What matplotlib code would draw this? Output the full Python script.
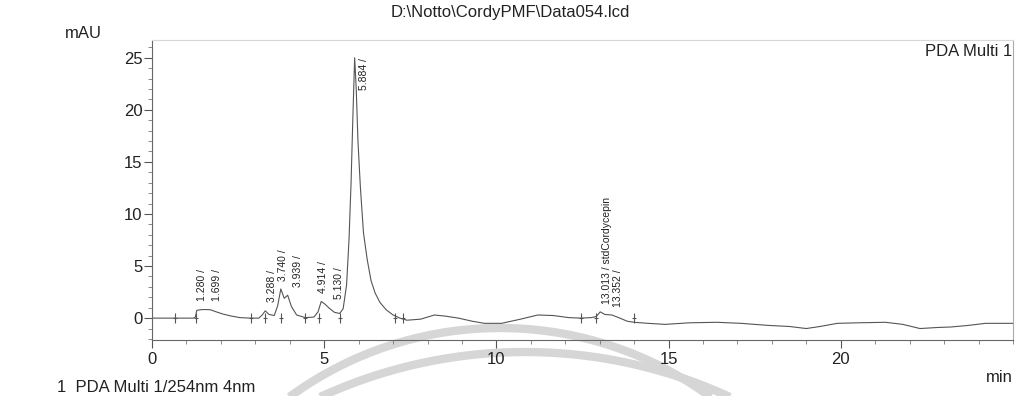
import numpy as np
import matplotlib
matplotlib.use("Agg")
import matplotlib.pyplot as plt
from matplotlib.ticker import MultipleLocator

plt.rcParams['font.family'] = ['Liberation Sans', 'DejaVu Sans']

# Detector trace, PDA channel 1 (254 nm): retention time [min] vs absorbance [mAU]
trace_time = [0.0, 0.6, 1.20, 1.26, 1.30, 1.45, 1.60, 1.699, 1.85, 2.05, 2.30, 2.55,
              2.85, 3.10, 3.20, 3.288, 3.40, 3.55, 3.65, 3.740, 3.84, 3.939, 4.05,
              4.20, 4.45, 4.70, 4.82, 4.914, 5.02, 5.130, 5.30, 5.45, 5.55, 5.65,
              5.72, 5.78, 5.83, 5.884, 5.93, 5.98, 6.05, 6.14, 6.25, 6.36, 6.48,
              6.62, 6.80, 7.00, 7.20, 7.40, 7.80, 8.20, 8.50, 8.90, 9.30, 9.65,
              10.15, 10.70, 11.20, 11.65, 12.10, 12.45, 12.75, 12.90, 13.013, 13.15,
              13.352, 13.55, 13.80, 14.00, 14.40, 14.90, 15.60, 16.40, 17.10, 17.90,
              18.50, 19.00, 19.40, 19.90, 20.50, 21.30, 21.80, 22.30, 22.80, 23.20,
              23.70, 24.20, 24.60, 25.0]
trace_mau = [0.0, 0.0, 0.0, 0.1, 0.75, 0.82, 0.82, 0.80, 0.62, 0.40, 0.20, 0.05,
             0.0, 0.0, 0.3, 0.70, 0.35, 0.25, 1.2, 2.80, 1.9, 2.20, 1.1,
             0.3, 0.05, 0.1, 0.6, 1.60, 1.35, 1.00, 0.55, 0.45, 0.9, 3.2,
             7.5, 13.0, 19.0, 25.0, 22.0, 17.0, 12.6, 8.2, 5.6, 3.6, 2.4,
             1.5, 0.8, 0.3, 0.0, -0.2, -0.1, 0.3, 0.2, 0.0, -0.3, -0.5,
             -0.5, -0.1, 0.3, 0.25, 0.05, 0.0, 0.05, 0.15, 0.60, 0.35,
             0.30, 0.05, -0.3, -0.4, -0.5, -0.6, -0.45, -0.4, -0.5, -0.7,
             -0.8, -1.0, -0.8, -0.5, -0.45, -0.4, -0.6, -1.0, -0.9, -0.85,
             -0.7, -0.5, -0.5, -0.5]

# Integrated peaks: retention time, apex height and report label
peak_time = [1.280, 1.699, 3.288, 3.740, 3.939, 4.914, 5.130, 5.884, 13.013, 13.352]
peak_mau = [0.80, 0.80, 0.70, 2.80, 2.20, 1.60, 1.00, 25.0, 0.60, 0.30]
peak_label = ["1.280 /", "1.699 /", "3.288 /", "3.740 /", "3.939 /", "4.914 /",
              "5.130 /", "5.884 /", "13.013 / stdCordycepin", "13.352 /"]

# Integration start/stop marks on the baseline
mark_time = [0.68, 1.28, 2.87, 3.29, 3.74, 4.45, 4.85, 5.45, 7.05, 7.30,
             12.45, 12.90, 14.00]

x_ticks = [0, 5, 10, 15, 20]
y_ticks = [0, 5, 10, 15, 20, 25]

W, H = 1021, 396
fig = plt.figure(figsize=(W / 100, H / 100), dpi=100)

# Background layer in pixel units for the faint stamp rings
bg = fig.add_axes([0, 0, 1, 1], zorder=0)
bg.set_xlim(0, W)
bg.set_ylim(H, 0)
bg.axis('off')
for cx, cy, r, x0, x1 in [(500, 684, 356, 270, 730), (525, 841, 489, 290, 770)]:
    xs = np.linspace(x0, x1, 300)
    ys = cy - np.sqrt(r ** 2 - (xs - cx) ** 2)
    bg.plot(xs, ys, color='#d6d6d6', lw=6.0, solid_capstyle='butt')

ax = fig.add_axes([152 / W, 1 - 340 / H, (1013 - 152) / W, 300 / H], zorder=1)
ax.patch.set_alpha(0)

ax.plot(trace_time, trace_mau, color='#555555', lw=0.8)
ax.plot(mark_time, [0] * len(mark_time), ls='none', marker='|', ms=7,
        mew=0.8, color='#555555')
ax.plot(mark_time, [0] * len(mark_time), ls='none', marker='_', ms=3.5,
        mew=0.8, color='#555555')

# horizontal nudges (points) for the tightly packed labels
nudge = {"3.740 /": -3, "3.939 /": 3, "4.914 /": -3, "5.130 /": 3}
for t, h, lab in zip(peak_time, peak_mau, peak_label):
    if h > 20:
        ax.annotate(lab, xy=(t, h), xytext=(3, 0), textcoords='offset points',
                    rotation=90, ha='left', va='top', fontsize=7.5, color='#222222')
    else:
        ax.annotate(lab, xy=(t, h), xytext=(1 + nudge.get(lab, 0), 6),
                    textcoords='offset points', rotation=90, ha='left',
                    va='bottom', fontsize=7.5, color='#222222')

ax.set_xlim(0, 25)
ax.set_ylim(-2.1, 26.7)
ax.set_xticks(x_ticks)
ax.set_yticks(y_ticks)
ax.xaxis.set_minor_locator(MultipleLocator(1))
ax.yaxis.set_minor_locator(MultipleLocator(1))
ax.tick_params(axis='both', which='major', length=6, width=0.8, color='#555555',
               labelsize=12, labelcolor='#222222')
ax.tick_params(axis='both', which='minor', length=3, width=0.6, color='#777777')
ax.tick_params(axis='x', which='major', pad=3)
ax.tick_params(axis='y', which='major', pad=1)

for side in ['left', 'bottom', 'right']:
    ax.spines[side].set_color('#666666')
    ax.spines[side].set_linewidth(0.8)
ax.spines['top'].set_color('#d8d8d8')
ax.spines['top'].set_linewidth(0.8)
ax.spines['right'].set_color('#aaaaaa')

fig.text(510 / W, 1 - 13 / H, r"D:\Notto\CordyPMF\Data054.lcd", ha='center',
         va='center', fontsize=12, color='#222222')
fig.text(83 / W, 1 - 33 / H, "mAU", ha='center', va='center', fontsize=12,
         color='#222222')
fig.text(1012 / W, 1 - 52 / H, "PDA Multi 1", ha='right', va='center',
         fontsize=12, color='#222222')
fig.text(1013 / W, 1 - 378 / H, "min", ha='right', va='center', fontsize=12,
         color='#222222')
fig.text(57 / W, 1 - 388 / H, "1  PDA Multi 1/254nm 4nm", ha='left',
         va='center', fontsize=12, color='#222222')

fig.savefig("out.png", dpi=100, facecolor='white')
